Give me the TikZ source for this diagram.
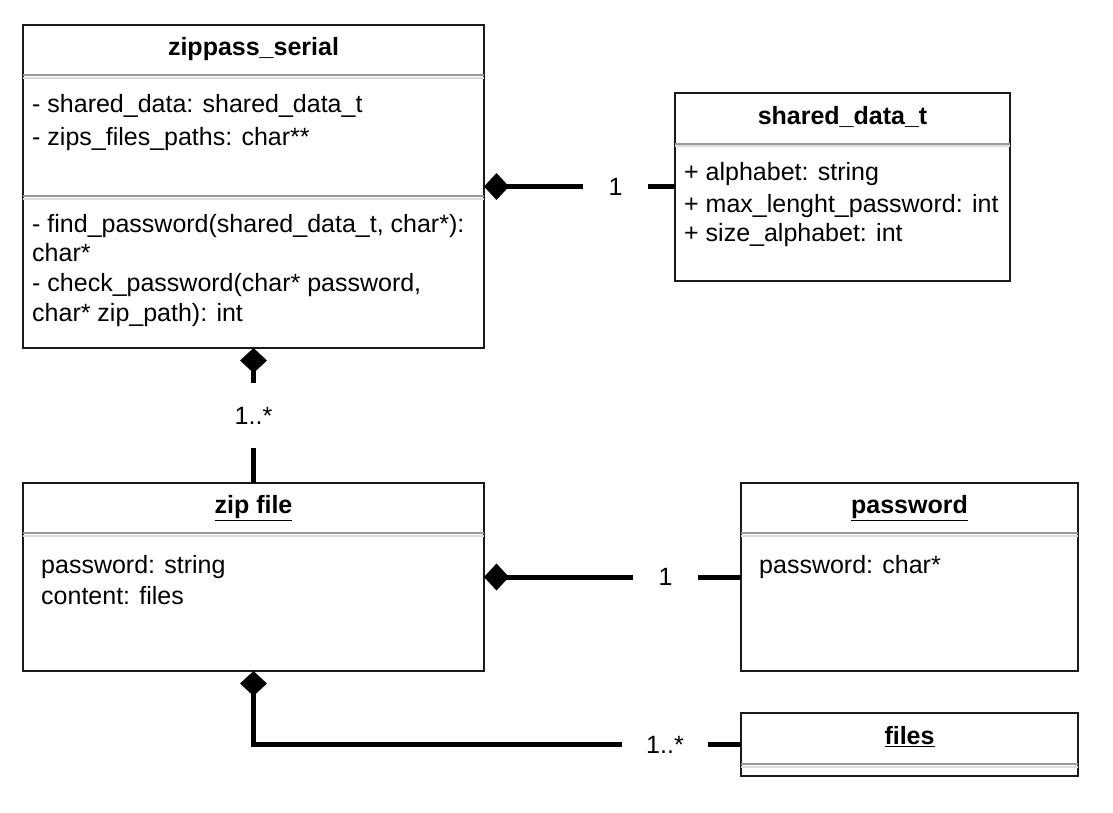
\documentclass[tikz,border=0pt]{standalone}
\usepackage{fontspec}
\setmainfont{Liberation Sans}
\usetikzlibrary{arrows.meta}
\definecolor{sepgray}{HTML}{999999}
\definecolor{seplight}{HTML}{DCDCDC}
\definecolor{boxline}{HTML}{1A1A1A}
\begin{document}
\begin{tikzpicture}[x=1pt,y=-1pt,
  cls/.style={draw=boxline, line width=2pt, fill=white, rectangle, inner sep=0pt, outer sep=0pt},
  txt/.style={anchor=base west, inner sep=0pt, font=\fontsize{25}{30}\selectfont},
  ttl/.style={anchor=base, inner sep=0pt, font=\fontsize{25}{30}\selectfont\bfseries},
  lbl/.style={inner sep=0pt, outer sep=0pt, font=\fontsize{25}{30}\selectfont},
  conn/.style={line width=5pt, draw=black},
  comp/.style={conn, {Diamond[length=25pt,width=27pt,line width=0pt]}-},
  sepd/.style={draw=sepgray, line width=2pt},
  sepl/.style={draw=seplight, line width=2pt}
]
\useasboundingbox[fill=white] (0,0) rectangle (1113,812);

% ---------- boxes ----------
\node[cls, minimum width=461pt, minimum height=323pt] (zs) at (253.5,186.5) {};
\node[cls, minimum width=335pt, minimum height=188pt] (sd) at (842.5,186.5) {};
\node[cls, minimum width=461pt, minimum height=188pt] (zf) at (253.5,577) {};
\node[cls, minimum width=337pt, minimum height=188pt] (pw) at (909.5,577) {};
\node[cls, minimum width=337pt, minimum height=63pt] (fl) at (909.5,744.5) {};

% ---------- separators ----------
\draw[sepd] ([yshift=-50pt]zs.north west) -- ([yshift=-50pt]zs.north east);
\draw[sepl] ([yshift=-52.5pt]zs.north west) -- ([yshift=-52.5pt]zs.north east);
\draw[sepd] ([yshift=-171pt]zs.north west) -- ([yshift=-171pt]zs.north east);
\draw[sepl] ([yshift=-173.5pt]zs.north west) -- ([yshift=-173.5pt]zs.north east);
\draw[sepd] ([yshift=-51pt]sd.north west) -- ([yshift=-51pt]sd.north east);
\draw[sepl] ([yshift=-53.5pt]sd.north west) -- ([yshift=-53.5pt]sd.north east);
\draw[sepd] ([yshift=-50pt]zf.north west) -- ([yshift=-50pt]zf.north east);
\draw[sepl] ([yshift=-52.5pt]zf.north west) -- ([yshift=-52.5pt]zf.north east);
\draw[sepd] ([yshift=-50pt]pw.north west) -- ([yshift=-50pt]pw.north east);
\draw[sepl] ([yshift=-52.5pt]pw.north west) -- ([yshift=-52.5pt]pw.north east);
\draw[sepd] ([yshift=-51pt]fl.north west) -- ([yshift=-51pt]fl.north east);
\draw[sepl] ([yshift=-53.5pt]fl.north west) -- ([yshift=-53.5pt]fl.north east);

% ---------- texts: zippass_serial ----------
\node[ttl] (zst) at (253.5,55.5) {zippass\_serial};
\node[txt] (zs1) at (32,112.5) {- shared\_data: shared\_data\_t};
\node[txt] (zs2) at (32,145) {- zips\_files\_paths: char**};
\node[txt] (zs3) at (32,232.5) {- find\_password(shared\_data\_t, char*):};
\node[txt] (zs4) at (32,261.5) {char*};
\node[txt] (zs5) at (32,291.5) {- check\_password(char* password,};
\node[txt] (zs6) at (32,321.5) {char* zip\_path): int};

% ---------- texts: shared_data_t ----------
\node[ttl] (sdt) at (842.5,124.5) {shared\_data\_t};
\node[txt] (sd1) at (684,180.5) {+ alphabet: string};
\node[txt] (sd2) at (684,212.5) {+ max\_lenght\_password: int};
\node[txt] (sd3) at (684,241.5) {+ size\_alphabet: int};

% ---------- texts: zip file ----------
\node[ttl] (zft) at (253.5,513.5) {\underline{zip file}};
\node[txt] (zf1) at (41,573.5) {password: string};
\node[txt] (zf2) at (41,604) {content: files};

% ---------- texts: password ----------
\node[ttl] (pwt) at (909.5,513.5) {\underline{password}};
\node[txt] (pw1) at (759,573.5) {password: char*};

% ---------- texts: files ----------
\node[ttl] (flt) at (909.5,744.5) {\underline{files}};

% ---------- multiplicity labels ----------
\node[lbl, minimum width=65pt, minimum height=20pt] (l1) at (615.5,186.5) {1};
\node[lbl, minimum width=40pt, minimum height=65pt] (l2) at (253.5,415.5) {1..*};
\node[lbl, minimum width=65pt, minimum height=20pt] (l3) at (665.5,577) {1};
\node[lbl, minimum width=86pt, minimum height=20pt] (l4) at (665,744.5) {1..*};

% ---------- connectors ----------
\draw[comp] (zs.east) -- (l1.west);
\draw[conn] (l1.east) -- (sd.west);
\draw[comp] (zs.south) -- (l2.north);
\draw[conn] (l2.south) -- (zf.north);
\draw[comp] (zf.east) -- (l3.west);
\draw[conn] (l3.east) -- (pw.west);
\draw[comp] (zf.south) |- (l4.west);
\draw[conn] (l4.east) -- (fl.west);
\end{tikzpicture}
\end{document}
